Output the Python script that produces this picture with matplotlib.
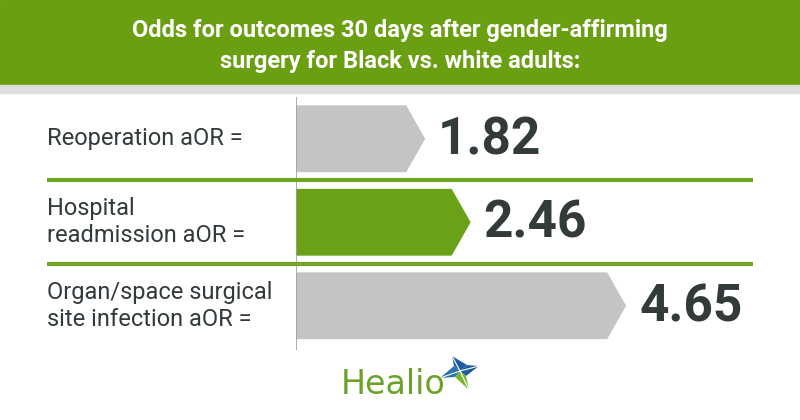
import matplotlib
matplotlib.use('Agg')
import matplotlib.pyplot as plt
from matplotlib import font_manager
from matplotlib.patches import Polygon, Rectangle

# data
labels = ["Reoperation aOR =", "Hospital\nreadmission aOR =",
          "Organ/space surgical\nsite infection aOR ="]
values = [1.82, 2.46, 4.65]
bar_colors = ["#c4c4c4", "#6aa116", "#c4c4c4"]
title = "Odds for outcomes 30 days after gender-affirming\nsurgery for Black vs. white adults:"

GREEN = "#6b9f12"
DARK = "#333a3a"

names = {f.name for f in font_manager.fontManager.ttflist}
title_font = "Liberation Sans Narrow" if "Liberation Sans Narrow" in names else "Roboto"

W, H = 800, 420
fig = plt.figure(figsize=(W / 100, H / 100), dpi=100)

# header band
fig.add_artist(Rectangle((0, 1 - 85 / H), 1, 85 / H, transform=fig.transFigure,
                         color=GREEN, zorder=0))
fig.add_artist(Rectangle((0, 1 - 93 / H), 1, 8 / H, transform=fig.transFigure,
                         color="#dedede", zorder=0))
fig.text(0.5, 1 - 46 / H, title, ha="center", va="center", color="white",
         fontsize=17, fontweight="bold", family=title_font, linespacing=1.4)

# bar area: x=0 at pixel 296, 71 px per unit
left_px, top_px, bot_px = 296, 97, 350
ax = fig.add_axes([left_px / W, 1 - bot_px / H, (W - left_px) / W, (bot_px - top_px) / H])
ax.set_xlim(0, (W - left_px) / 71)
ax.set_ylim(2.53, -0.5)
ax.axis("off")
ax.axvline(0, color="#a0a0a0", lw=1.2)

tip = 19 / 71
half = 0.4
for i, (v, c) in enumerate(zip(values, bar_colors)):
    pts = [(0, i - half), (v - tip, i - half), (v, i), (v - tip, i + half), (0, i + half)]
    ax.add_patch(Polygon(pts, closed=True, color=c, lw=0))
    ax.text(v + 13 / 71, i + 0.02, f"{v:.2f}", ha="left", va="center",
            fontsize=37, fontweight="bold", family="Roboto", color=DARK)

x_lab = (47 - left_px) / 71
x_end = (753 - left_px) / 71
for sep in [0.5, 1.5]:
    ax.plot([x_lab, x_end], [sep, sep], color="#6fa524", lw=3, clip_on=False,
            solid_capstyle="butt")

for i, lab in enumerate(labels):
    ax.text(x_lab, i, lab, ha="left", va="center", fontsize=17, family="Roboto",
            color=DARK, linespacing=1.2)

# Healio logo
fig.text(341 / W, 1 - 394 / H, "Healio", ha="left", va="baseline", fontsize=24,
         family="DejaVu Sans", color="#6ba32a")


def fig_poly(pts, color):
    fig.add_artist(Polygon([(x / W, 1 - y / H) for x, y in pts], closed=True,
                           transform=fig.transFigure, color=color, lw=0))


cx, cy = 460, 371
tips = {"top": (452, 356), "right": (479, 366), "bottom": (469, 390), "left": (440, 378)}
inner = [(cx + 7, cy - 6), (cx + 6, cy + 5), (cx - 5, cy + 6), (cx - 6, cy - 5)]
fig_poly([tips["top"], inner[0], (cx, cy), inner[3]], "#1d5c9c")
fig_poly([tips["right"], inner[1], (cx, cy), inner[0]], "#1d5c9c")
fig_poly([tips["left"], inner[3], (cx, cy), inner[2]], "#2a6fb0")
fig_poly([tips["bottom"], inner[2], (cx, cy), inner[1]], "#7ab531")
for p in tips.values():
    fig.add_artist(plt.Line2D([cx / W, p[0] / W], [1 - cy / H, 1 - p[1] / H],
                              transform=fig.transFigure, color="white", lw=0.8))

fig.savefig("out.png", dpi=100)
